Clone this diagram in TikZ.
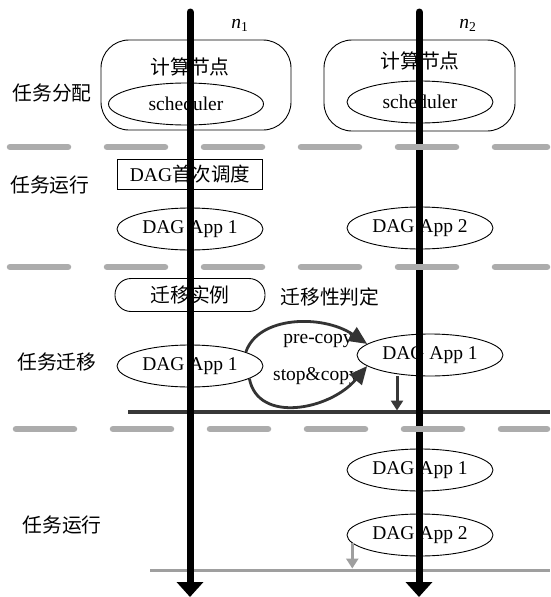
\documentclass[tikz,border=0pt]{standalone}
\usepackage{fontspec}
\setmainfont{Liberation Serif}
\newfontfamily\cjk{Noto Sans CJK SC}
\usetikzlibrary{arrows.meta,shapes.geometric}
\begin{document}
\begin{tikzpicture}[x=1pt,y=-1pt,
  lat/.style={font=\fontsize{19.5}{22}\selectfont, inner sep=0pt},
  cn/.style={font=\cjk\fontsize{19.8}{22}\selectfont, inner sep=0pt},
  ell/.style={draw, ellipse, line width=0.9pt, minimum width=146pt, minimum height=42pt, inner sep=0pt, font=\fontsize{19.5}{22}\selectfont},
  rbox/.style={draw, rounded corners=28pt, line width=0.9pt},
  axisline/.style={line width=7pt, line cap=round, -{Triangle[width=26pt,length=15pt]}},
  sepline/.style={line width=6.5pt, line cap=round, gray!65},
  flow/.style={line width=2.8pt, draw=black!80, -{Triangle[width=16pt,length=18pt]}},
  drop/.style={line width=3pt, -{Triangle[width=12pt,length=10pt]}, shorten >=1.5pt},
]
\useasboundingbox (0,0) rectangle (550,597);
\fill[white] (0,0) rectangle (550,597);

% computing nodes
\node[rbox, minimum width=190pt, minimum height=90pt] (c1) at (196,85) {};
\node[cn] (c1t) at (190,67) {计算节点};
\node[ell, minimum width=155pt] (s1) at (186,104) {scheduler};
\node[rbox, minimum width=191pt, minimum height=91pt] (c2) at (419.5,85.5) {};
\node[cn] (c2t) at (420,61) {计算节点};
\node[ell] (s2) at (420,102) {scheduler};

% phase labels
\node[cn] (l1) at (52,93) {任务分配};
\node[cn] (l2) at (50,185) {任务运行};
\node[cn] (l3) at (57,362) {任务迁移};
\node[cn] (l4) at (62,525) {任务运行};

% first run
\node[draw, line width=0.9pt, minimum width=145pt, minimum height=30pt, inner sep=0pt, font=\fontsize{19.5}{22}\selectfont] (dag0) at (190,174) {DAG{\cjk 首次调度}};
\node[ell] (a1) at (190,229) {DAG App 1};
\node[ell] (a2) at (420,228) {DAG App 2};

% migration
\node[draw, rounded corners=16pt, line width=0.9pt, minimum width=150pt, minimum height=33pt, inner sep=0pt] (mig) at (190,295) {};
\node[cn] (migt) at (190,295) {迁移实例};
\node[cn] (judge) at (330,297) {迁移性判定};
\node[ell] (m1) at (190,366) {DAG App 1};
\node[ell] (m2) at (430,355) {DAG App 1};
\node[lat] (pc) at (318,341) {pre-copy};
\node[lat] (sc) at (316,376) {stop\&copy};

% second run
\node[ell] (b1) at (420,470) {DAG App 1};
\node[ell] (b2) at (420,535) {DAG App 2};

% node names
\node[lat] (n1l) at (240,25) {\itshape n\upshape\textsubscript{1}};
\node[lat] (n2l) at (468,25) {\itshape n\upshape\textsubscript{2}};

% coordinates
\coordinate (n1top) at (190,12);
\coordinate (n1bot) at (190,597);
\coordinate (n2top) at (419,12);
\coordinate (n2bot) at (419,597);
\coordinate (hl1) at (128,412);
\coordinate (hl2) at (550,412);
\coordinate (gl1) at (150,570);
\coordinate (gl2) at (550,570);

% horizontal lines
\draw[line width=3.5pt, black!78] (hl1) -- (hl2);
\draw[line width=3pt, gray!75] (gl1) -- (gl2);

% time axes
\draw[axisline] (n1top) -- (n1bot);
\draw[axisline] (n2top) -- (n2bot);

% separators
\foreach \y/\s in {147/7, 267/7, 429/13}
  \foreach \k in {0,...,5}
    \draw[sepline] ({\s+97*\k+3},\y) -- ({min(\s+97*\k+61,547)},\y);

% migration arrows
\draw[flow] (m1.14) .. controls (258,316) and (322,314) .. (m2.170);
\draw[flow] (m1.-12) .. controls (258,424) and (330,410) .. (m2.-170);

% drop arrows
\coordinate (ra) at ([xshift=-33pt]m2.south);
\draw[drop, black!78] (ra) -- (ra |- hl1);
\coordinate (gb) at (b2.-173);
\draw[drop, gray!75] (gb) -- (gb |- gl1);
\end{tikzpicture}
\end{document}
